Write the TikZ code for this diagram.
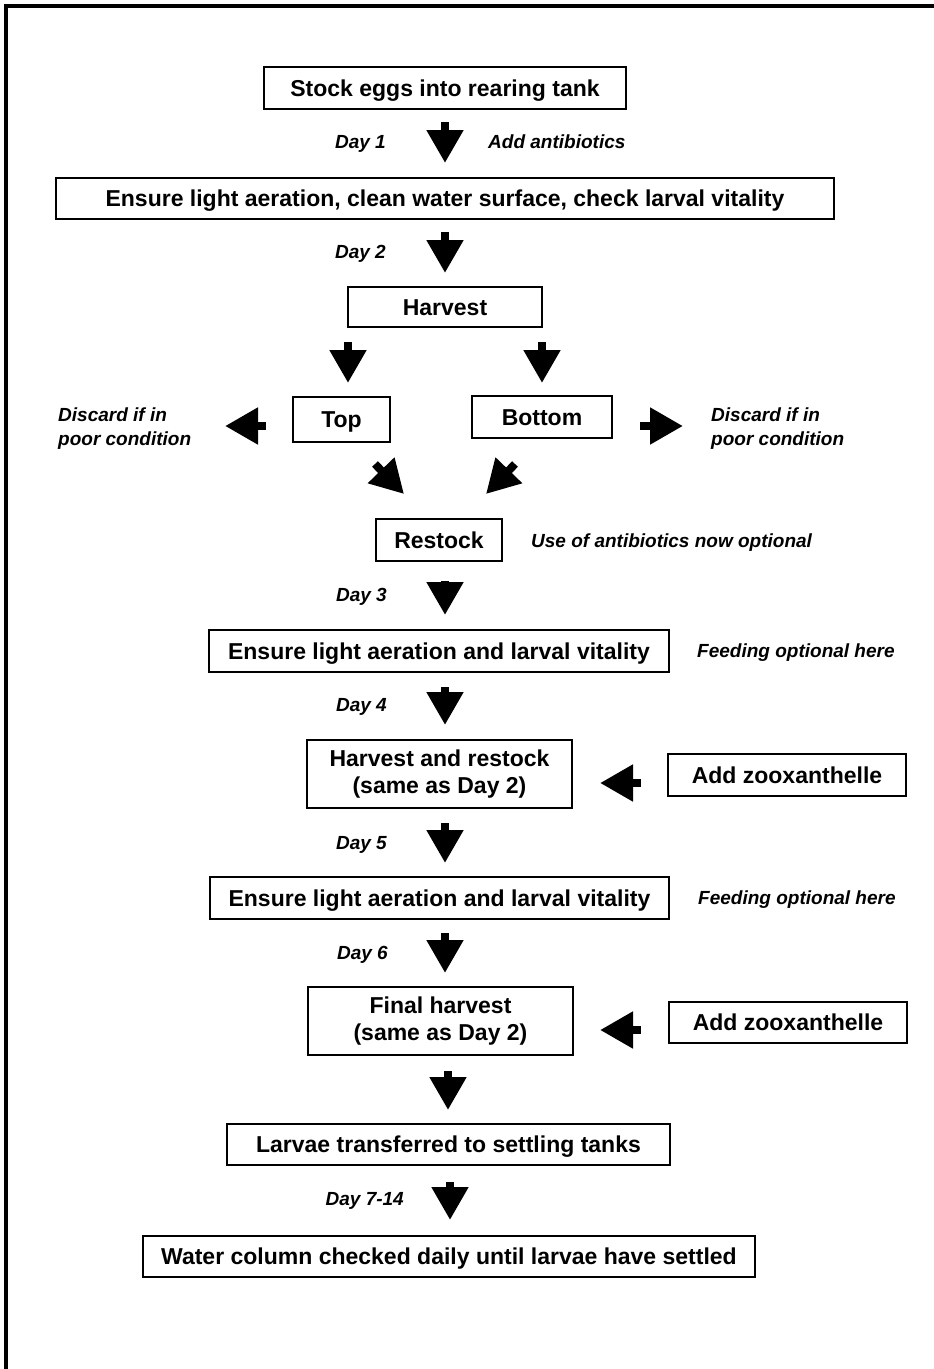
\documentclass[tikz,border=0pt]{standalone}
\usepackage{fontspec}
\setmainfont{Liberation Sans}
\usetikzlibrary{arrows.meta}
\begin{document}
\begin{tikzpicture}[x=1pt,y=-1pt,
  boxbase/.style={draw=black, line width=1.3pt, inner sep=0pt, align=center,
    font=\fontsize{23}{27}\selectfont\bfseries},
  box/.style={boxbase, text height=16.5pt, text depth=0pt},
  boxtwo/.style={boxbase},
  lbl/.style={inner sep=0pt, align=left,
    font=\fontsize{19}{24}\selectfont\bfseries\itshape},
  blk/.style={line width=8pt, -{Triangle[width=35pt,length=33pt]}},
  frame/.style={line width=4pt}
]
\useasboundingbox (0,0) rectangle (934,1369);
\draw[frame] (6,1369) -- (6,6) -- (934,6);

% boxes
\node[box, minimum width=362pt, minimum height=42pt] (stock) at (445,88) {Stock eggs into rearing tank};
\node[box, minimum width=778pt, minimum height=41pt] (ensure1) at (445,198.5) {Ensure light aeration, clean water surface, check larval vitality};
\node[box, minimum width=194pt, minimum height=40pt] (harvest) at (445,307) {Harvest};
\node[box, minimum width=97pt, minimum height=45pt] (top) at (341.5,419.5) {Top};
\node[box, minimum width=140pt, minimum height=42pt] (bottom) at (542,417) {Bottom};
\node[box, minimum width=126pt, minimum height=42pt] (restock) at (439,540) {Restock};
\node[box, minimum width=460pt, minimum height=42pt] (ensure2) at (439,651) {Ensure light aeration and larval vitality};
\node[boxtwo, minimum width=265pt, minimum height=68pt] (hr) at (439.5,774) {Harvest and restock\\(same as Day 2)};
\node[box, minimum width=238pt, minimum height=42pt] (zoox1) at (787,775) {Add zooxanthelle};
\node[box, minimum width=459pt, minimum height=42pt] (ensure3) at (439.5,898) {Ensure light aeration and larval vitality};
\node[boxtwo, minimum width=265pt, minimum height=68pt] (final) at (440.5,1021) {Final harvest\\(same as Day 2)};
\node[box, minimum width=238pt, minimum height=41pt] (zoox2) at (788,1022.5) {Add zooxanthelle};
\node[box, minimum width=443pt, minimum height=41pt] (larvae) at (448.5,1144.5) {Larvae transferred to settling tanks};
\node[box, minimum width=612pt, minimum height=41pt] (water) at (449,1256.5) {Water column checked daily until larvae have settled};

% labels
\node[lbl, anchor=base east] (l1) at (386,148) {Day 1};
\node[lbl, anchor=base west] (l1b) at (488,148) {Add antibiotics};
\node[lbl, anchor=base east] (l2) at (386,258) {Day 2};
\node[lbl, anchor=west] (dl) at (58,429) {Discard if in\\poor condition};
\node[lbl, anchor=west] (dr) at (711,429) {Discard if in\\poor condition};
\node[lbl, anchor=base west] (opt) at (531,547) {Use of antibiotics now optional};
\node[lbl, anchor=base east] (l3) at (387,601) {Day 3};
\node[lbl, anchor=base west] (f1) at (697,657) {Feeding optional here};
\node[lbl, anchor=base east] (l4) at (387,711) {Day 4};
\node[lbl, anchor=base east] (l5) at (387,849) {Day 5};
\node[lbl, anchor=base west] (f2) at (698,904) {Feeding optional here};
\node[lbl, anchor=base east] (l6) at (388,959) {Day 6};
\node[lbl, anchor=base east] (l7) at (404,1205) {Day 7-14};

% arrow end points
\coordinate (a1s) at (445,122);  \coordinate (a1e) at (445,163);
\coordinate (a2s) at (445,232);  \coordinate (a2e) at (445,273);
\coordinate (hts) at (348,342);  \coordinate (hte) at (348,383);
\coordinate (hbs) at (542,342);  \coordinate (hbe) at (542,383);
\coordinate (tls) at (266,426);  \coordinate (tle) at (225,426);
\coordinate (brs) at (640,426);  \coordinate (bre) at (683,426);
\coordinate (dls) at (375,464);  \coordinate (dle) at (404,494);
\coordinate (drs) at (515,464);  \coordinate (dre) at (486,494);
\coordinate (a3s) at (445,581);  \coordinate (a3e) at (445,615);
\coordinate (a4s) at (445,687);  \coordinate (a4e) at (445,725);
\coordinate (z1s) at (641,783);  \coordinate (z1e) at (600,783);
\coordinate (a5s) at (445,823);  \coordinate (a5e) at (445,863);
\coordinate (a6s) at (445,933);  \coordinate (a6e) at (445,973);
\coordinate (z2s) at (641,1030); \coordinate (z2e) at (600,1030);
\coordinate (a7s) at (448,1071); \coordinate (a7e) at (448,1110);
\coordinate (a8s) at (450,1182); \coordinate (a8e) at (450,1220);

\foreach \s/\e in {a1s/a1e,a2s/a2e,hts/hte,hbs/hbe,tls/tle,brs/bre,dls/dle,drs/dre,
  a3s/a3e,a4s/a4e,z1s/z1e,a5s/a5e,a6s/a6e,z2s/z2e,a7s/a7e,a8s/a8e}
  \draw[blk] (\s) -- (\e);
\end{tikzpicture}
\end{document}
